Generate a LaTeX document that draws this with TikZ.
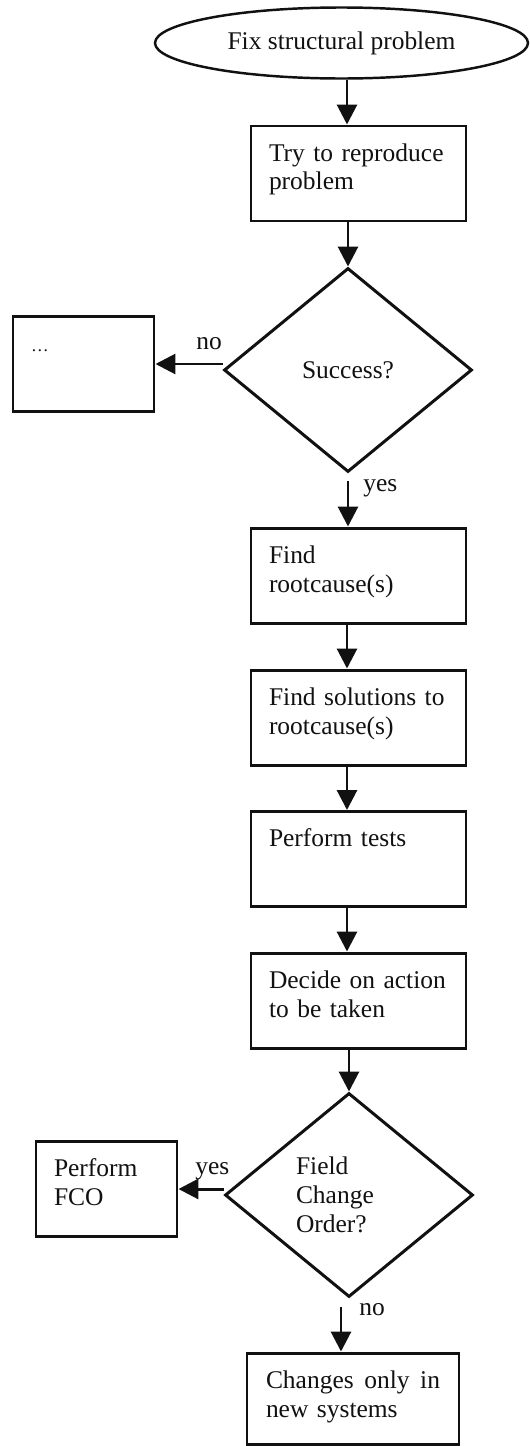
\documentclass[tikz,border=0pt]{standalone}
\usepackage{fontspec}
\setmainfont{Liberation Serif}
\usepackage{xcolor}
\usepackage{tikz}
\usetikzlibrary{positioning, arrows.meta}
\usetikzlibrary{shapes.geometric,calc}
\definecolor{fcInk}{HTML}{111111}

\tikzset{
  flowtxt/.style={font=\fontsize{14.5}{16.5}\selectfont, text=fcInk},
  termnode/.style={flowtxt, draw=fcInk, line width=1.4pt, ellipse, inner sep=0pt,
    minimum width=7.46cm, minimum height=1.42cm},
  stepbox/.style={flowtxt, draw=fcInk, line width=1.7pt, rectangle, align=left,
    inner xsep=0.36cm, inner ysep=0pt, text height=0.70cm, text depth=1.20cm},
  testnode/.style={flowtxt, draw=fcInk, line width=1.7pt, diamond, inner sep=0pt,
    minimum width=4.96cm, minimum height=4.08cm},
  lbl/.style={flowtxt, inner sep=0pt, anchor=base west},
  flow/.style={draw=fcInk, line width=1.7pt, -{Triangle[length=0.4cm, width=0.4cm]}}
}

\begin{document}
\begin{tikzpicture}
  \useasboundingbox (0,0) rectangle (10.58,-28.92);
  % main column
  \node[termnode] (fix) at (6.83,-0.86) {Fix structural problem};
  \node[stepbox, text width=3.58cm] (try) at (7.17,-3.47) {Try to reproduce\\problem};
  \node[testnode] (success) at (6.96,-7.40) {Success?};
  \node[stepbox, text width=3.58cm] (root) at (7.17,-11.51) {Find\\rootcause(s)};
  \node[stepbox, text width=3.58cm] (solve) at (7.17,-14.35) {Find solutions to\\rootcause(s)};
  \node[stepbox, text width=3.58cm] (tests) at (7.17,-17.18) {Perform tests};
  \node[stepbox, text width=3.58cm] (decide) at (7.17,-20.01) {Decide on action\\to be taken};
  \node[testnode, text width=2.12cm, align=left] (fco) at (6.98,-23.90) {Field\\Change\\Order?};
  \node[stepbox, text width=3.48cm, inner xsep=0.38cm, text depth=1.12cm] (newsys) at (7.06,-27.97)
    {Changes\hfill only\hfill in\\new systems};
  % side branches
  \node[stepbox, text width=2.10cm] (dots) at (1.67,-7.28) {{\fontsize{10}{12}\selectfont\ldots}};
  \node[stepbox, text width=2.10cm] (fcobox) at (2.13,-23.78) {Perform\\FCO};

  \coordinate (col) at (6.94,0);
  \coordinate (col2) at (6.82,0);

  \draw[flow] (fix.south -| col) -- (try.north -| col);
  \draw[flow] (try.south -| success.north) -- (success.north);
  \draw[flow] (success.west |- dots.east) -- (dots.east);
  \draw[flow] ($(success.south)+(0,-0.15)$) -- (root.north -| success.south);
  \draw[flow] (root.south -| col) -- (solve.north -| col);
  \draw[flow] (solve.south -| col) -- (tests.north -| col);
  \draw[flow] (tests.south -| col) -- (decide.north -| col);
  \draw[flow] (decide.south -| fco.north) -- (fco.north);
  \draw[flow] (fco.west |- fcobox.east) -- (fcobox.east);
  \draw[flow] ($(fco.south -| col2)+(0,-0.16)$) -- (newsys.north -| col2);

  % branch labels
  \node[lbl] (no1) at (3.92,-6.98) {no};
  \node[lbl] (yes1) at (7.26,-9.82) {yes};
  \node[lbl] (yes2) at (3.90,-23.48) {yes};
  \node[lbl] (no2) at (7.18,-26.30) {no};
\end{tikzpicture}
\end{document}
